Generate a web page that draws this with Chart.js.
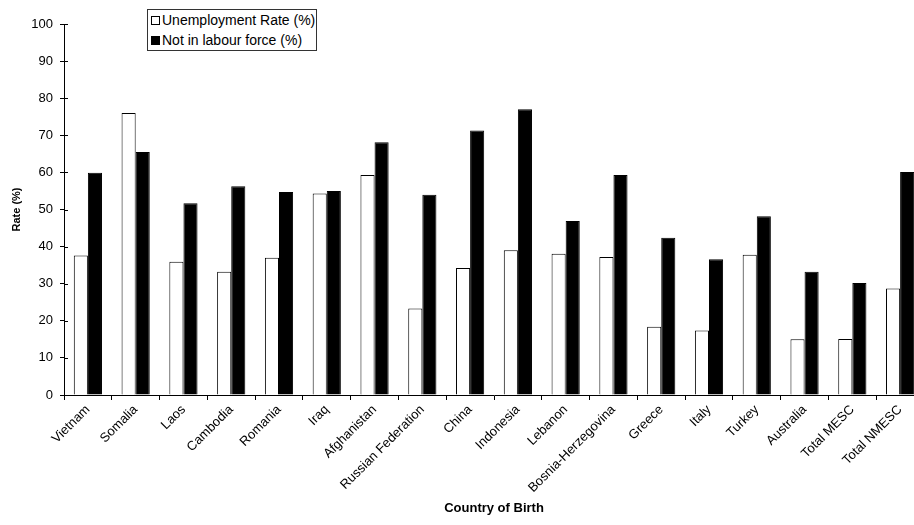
<!DOCTYPE html>
<html>
<head>
<meta charset="utf-8">
<script src="https://cdn.jsdelivr.net/npm/chart.js@4/dist/chart.umd.min.js"></script>
<style>
    html, body { margin: 0; padding: 0; background: #fff; overflow: hidden; }
    #wrap { position: relative; width: 914px; height: 525px; overflow: hidden; }
    #rateChart { position: absolute; left: 0; top: 0; }
    .legend-box {
        position: absolute; left: 147px; top: 9px; width: 168px; height: 40px;
        border: 1px solid #333; background: #fff;
        font-family: "Liberation Sans", Arial, sans-serif; font-size: 14px; color: #000;
    }
    .legend-row { display: flex; align-items: center; height: 20px; padding-left: 3px; white-space: nowrap; }
    .legend-swatch { width: 9px; height: 9px; border: 1px solid #000; margin-right: 2px; box-sizing: border-box; }
</style>
</head>
<body>
<div id="wrap">
    <canvas id="rateChart" width="930" height="525"></canvas>
    <div class="legend-box" id="legendBox"></div>
</div>
<script>
// labour market outcomes by country of birth
const countries = ['Vietnam', 'Somalia', 'Laos', 'Cambodia', 'Romania', 'Iraq', 'Afghanistan',
    'Russian Federation', 'China', 'Indonesia', 'Lebanon', 'Bosnia-Herzegovina', 'Greece',
    'Italy', 'Turkey', 'Australia', 'Total MESC', 'Total NMESC'];
const unemploymentRate = [37.6, 76.0, 35.9, 33.2, 37.0, 54.3, 59.3, 23.3, 34.2, 39.0,
    38.1, 37.2, 18.4, 17.4, 37.8, 15.0, 15.1, 28.7];
const notInLabourForce = [59.9, 65.5, 51.7, 56.3, 54.7, 55.0, 68.1, 54.0, 71.3, 77.0,
    46.9, 59.3, 42.4, 36.6, 48.2, 33.2, 30.2, 60.1];
const seriesNames = ['Unemployment Rate (%)', 'Not in labour force (%)'];
const rateTicks = [0, 10, 20, 30, 40, 50, 60, 70, 80, 90, 100];

const FONT = '"Liberation Sans", Arial, sans-serif';

// y tick marks cross the axis line, Chart.js only draws the outer half
const innerTicks = {
    id: 'innerTicks',
    afterDraw(chart) {
        const y = chart.scales.y, ctx = chart.ctx;
        ctx.save();
        ctx.strokeStyle = '#000';
        ctx.lineWidth = 1;
        y.ticks.forEach(t => {
            const py = Math.round(y.getPixelForValue(t.value)) + 0.5;
            ctx.beginPath();
            ctx.moveTo(chart.chartArea.left, py);
            ctx.lineTo(chart.chartArea.left + 4, py);
            ctx.stroke();
        });
        ctx.restore();
    }
};

new Chart(document.getElementById('rateChart'), {
    type: 'bar',
    data: {
        labels: countries,
        datasets: [
            { label: seriesNames[0], data: unemploymentRate, backgroundColor: '#fff', borderColor: '#000', borderWidth: 1 },
            { label: seriesNames[1], data: notInLabourForce, backgroundColor: '#000', borderColor: '#000', borderWidth: 1 }
        ]
    },
    options: {
        responsive: false,
        animation: false,
        events: [],
        layout: { padding: { top: 24, right: 6, left: 0, bottom: 0 } },
        datasets: { bar: { categoryPercentage: 0.59, barPercentage: 1.0 } },
        plugins: { legend: { display: false }, tooltip: { enabled: false } },
        scales: {
            x: {
                afterFit: s => { s.height = 130; },
                grid: { drawOnChartArea: false, drawTicks: true, tickLength: 5, color: '#000', offset: true },
                border: { color: '#000', width: 1 },
                ticks: {
                    autoSkip: false, minRotation: 45, maxRotation: 45, padding: 2,
                    color: '#000', font: { family: FONT, size: 13 }
                },
                title: {
                    display: true, text: 'Country of Birth', color: '#000',
                    font: { family: FONT, size: 13, weight: 'bold' }, padding: { top: 0, bottom: 9 }
                }
            },
            y: {
                min: 0, max: 100,
                afterFit: s => { s.width = 64; },
                afterBuildTicks: s => { s.ticks = rateTicks.map(v => ({ value: v })); },
                grid: { drawOnChartArea: false, drawTicks: true, tickLength: 4, color: '#000' },
                border: { color: '#000', width: 1 },
                ticks: { padding: 7, color: '#000', font: { family: FONT, size: 13 } },
                title: {
                    display: true, text: 'Rate (%)', color: '#000',
                    font: { family: FONT, size: 11, weight: 'bold' }, padding: { top: 10, bottom: 0 }
                }
            }
        }
    },
    plugins: [innerTicks]
});

// legend box sits over the top of the plot
const legendBox = document.getElementById('legendBox');
legendBox.innerHTML = seriesNames.map((name, i) =>
    `<div class="legend-row"><span class="legend-swatch" style="background:${i === 0 ? '#fff' : '#000'}"></span>${name}</div>`
).join('');
</script>
</body>
</html>
